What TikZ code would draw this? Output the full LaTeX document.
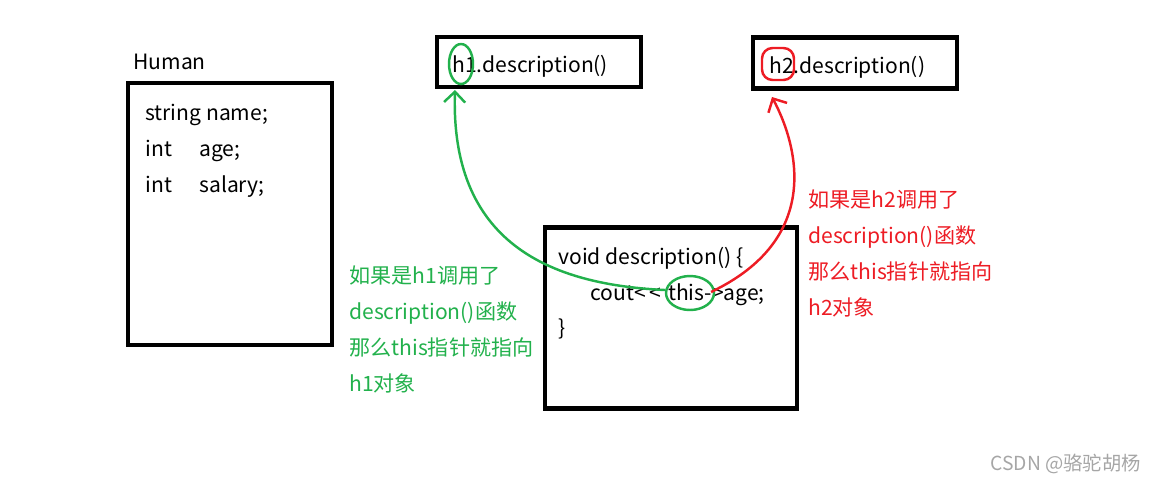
\documentclass[tikz,border=0pt]{standalone}
\usepackage{fontspec}
\setmainfont{Noto Sans CJK SC}
\usetikzlibrary{positioning,arrows.meta}
\definecolor{markgreen}{HTML}{22B14C}
\definecolor{markred}{HTML}{ED1C24}

\begin{document}
\begin{tikzpicture}[x=0.02cm, y=-0.02cm,
      every node/.style = {font=\fontsize{12pt}{14pt}\selectfont, inner sep=0pt},
      box/.style        = {draw=black, line width=2.3pt},
      txt/.style        = {anchor=west},
      greentxt/.style   = {txt, text=markgreen, align=left, font=\fontsize{12pt}{20.5pt}\selectfont},
      redtxt/.style     = {txt, text=markred, align=left, font=\fontsize{12pt}{20.5pt}\selectfont}
    ]
    \useasboundingbox (0,0) rectangle (1156,481);

    % Human class
    \node (humanlabel) [txt] at (133,62) {Human};
    \draw[box] (128,83) rectangle (332,345);
    \node (fname)   [txt] at (145,115) {string name;};
    \node (fage)    [txt] at (145,151) {int\hspace{1.3em}age;};
    \node (fsalary) [txt] at (145,187) {int\hspace{1.3em}salary;};

    % calls
    \node (hone) [box, minimum width=204*0.02cm, minimum height=50*0.02cm] at (539,62) {};
    \node (honetxt) [txt] at (452,66) {h1.description()};
    \node (htwo) [box, minimum width=204*0.02cm, minimum height=51*0.02cm] at (855,63) {};
    \node (htwotxt) [txt] at (769,67) {h2.description()};

    % method body
    \node (method) [box, minimum width=252*0.02cm, minimum height=181*0.02cm] at (671,318) {};
    \node (line1) [txt] at (558,258) {void description() \{};
    \node (line2) [txt] at (590,295) {cout{<}\,{<}\,\,this{-}{>}age;};
    \node (line3) [txt] at (558,329) {\}};

    % marks
    \draw[markgreen, line width=1.4pt] (461,64) ellipse (12 and 20);
    \draw[markred, line width=1.4pt, rounded corners=6pt] (762,48) rectangle (794,80);
    \draw[markgreen, line width=1.4pt] (690,293) ellipse (24 and 17);

    % arrows
    \coordinate (thisleft)  at (665,290);
    \coordinate (thisright) at (711,292);
    \draw[markgreen, line width=1.4pt, -{Straight Barb[length=6pt]}]
      (thisleft) .. controls (560,285) and (450,250) .. (455,90);
    \draw[markred, line width=1.4pt, -{Straight Barb[length=6pt]}]
      (thisright) .. controls (820,240) and (800,150) .. (772,97);

    % explanations
    \node (greennote) [greentxt, anchor=north west] at (349,265)
      {如果是h1调用了\\description()函数\\那么this指针就指向\\h1对象};
    \node (rednote) [redtxt, anchor=north west] at (808,189)
      {如果是h2调用了\\description()函数\\那么this指针就指向\\h2对象};

    \node (mark) [txt, text=gray!70, font=\fontsize{11pt}{12pt}\selectfont] at (990,464) {CSDN @骆驼胡杨};
  \end{tikzpicture}
\end{document}
